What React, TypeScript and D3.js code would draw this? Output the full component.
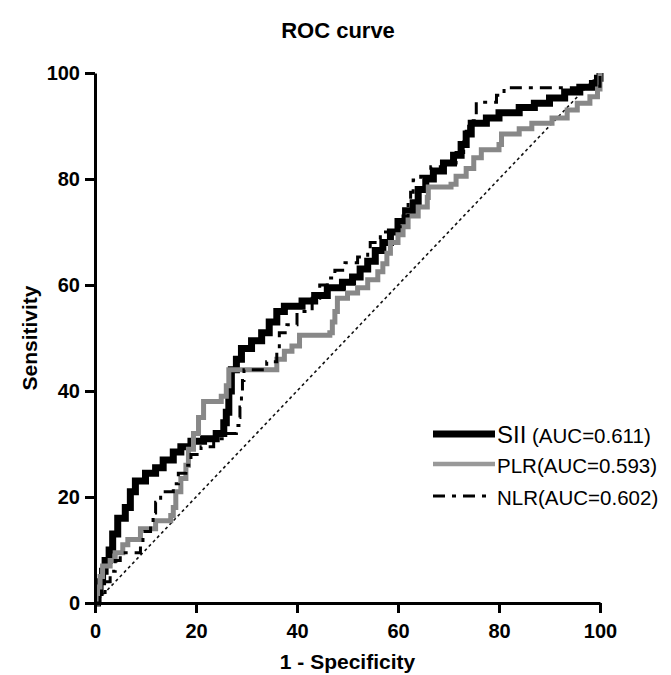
import React, { useEffect, useRef } from "react";
import * as d3 from "d3";

// ROC points: [1 - specificity, sensitivity] in %
const siiPoints: [number, number][] = [
  [0, 0], [0.5, 2], [1, 4], [1.5, 6], [2, 8], [2.8, 10], [3.5, 13], [4.5, 16],
  [6, 18], [7, 21], [8, 23], [10, 24.5], [12, 25.5], [13.5, 27], [15.5, 28.5],
  [17, 29.5], [19, 30.5], [21.5, 31], [24, 32], [25.5, 34], [26, 36], [26.5, 40],
  [27, 44], [28, 46], [29, 48], [31, 49.5], [33, 51], [34.5, 53], [36, 55],
  [37.5, 56], [41, 57], [43.5, 58], [46, 59.5], [49, 60.5], [51, 61.5], [52.5, 63],
  [54, 64.5], [55.5, 66.5], [57, 68], [58.5, 70], [60, 72], [61.5, 74], [63, 75.5],
  [64, 78], [65.5, 80], [67, 81.5], [69, 83], [71, 84.5], [72.5, 86.5], [73.5, 88.5],
  [74.5, 90.5], [77.5, 91.5], [80, 92.5], [84, 93.5], [87, 94.3], [90, 95.3],
  [93, 96.4], [96, 97.3], [98.5, 98], [99.5, 99], [100, 100],
];

const plrPoints: [number, number][] = [
  [0, 0], [0.5, 3], [1, 5], [1.5, 7], [3, 8], [4, 9.5], [5.5, 11], [6.5, 12],
  [9, 14], [12, 15.5], [15, 16.5], [15.5, 18], [16, 21], [17, 23.5], [18, 26],
  [18.5, 29], [19.5, 32], [20.5, 35], [21.5, 38], [25, 39], [26, 41], [26.5, 44],
  [35, 44], [36, 46], [37.5, 47.5], [39, 48.5], [40.5, 50.5], [46.5, 51], [47, 53],
  [47.5, 55], [48, 57.5], [50, 58.5], [52, 59.5], [54, 61], [56, 62.5], [57, 64],
  [57.8, 66], [58.5, 68], [60, 69.5], [61, 71], [62, 73], [64, 74.7], [65.8, 76.5],
  [66, 78.5], [70.5, 79], [71.5, 80.5], [73.5, 82], [75, 84], [76.5, 85.5],
  [80, 86.5], [80.5, 88.5], [84, 89.5], [86.5, 90.5], [90.5, 91.5], [93.5, 93],
  [95.5, 94.3], [98, 95.5], [99.5, 97], [100, 100],
];

const nlrPoints: [number, number][] = [
  [0, 0], [1, 2], [2, 4], [3, 6], [4, 8], [5, 9.5], [9, 11], [9.5, 13.5], [11, 15],
  [11.5, 17], [12, 19], [13, 21], [15.5, 22.5], [16.5, 24.5], [18, 26], [19, 28],
  [21, 29.5], [23.5, 31], [26, 32], [28, 33.5], [28.5, 35], [28.7, 37], [29, 39],
  [29.2, 42], [29.5, 44], [34, 45.5], [36, 47.5], [36.5, 51], [38, 52.5], [40, 55],
  [43, 57.5], [44.5, 60], [46, 61.3], [47.5, 62.8], [49.5, 64.2], [52, 65.3],
  [54, 66.6], [54.5, 68], [56.5, 70], [59, 71], [61, 73], [62, 75.5], [62.5, 77.5],
  [63, 79.8], [64.5, 80.5], [66.5, 82.3], [69, 83], [71.5, 85], [73, 87], [73.5, 89],
  [74, 91], [75.5, 94.5], [79.5, 95.8], [81, 97.2], [99.5, 97.5], [100, 100],
];

const xTicks = [0, 20, 40, 60, 80, 100];
const yTicks = [0, 20, 40, 60, 80, 100];

const FONT = "'Liberation Sans', Arial, sans-serif";

const App = () => {
  const svgRef = useRef<SVGSVGElement>(null);

  useEffect(() => {
    const root = d3.select(svgRef.current);
    root.selectAll("*").remove();

    const margin = { top: 73, left: 95 };
    const width = 505;
    const height = 530;

    const svg = root
      .append("g")
      .attr("transform", `translate(${margin.left},${margin.top})`);

    const x = d3.scaleLinear().domain([0, 100]).range([0, width]);
    const y = d3.scaleLinear().domain([0, 100]).range([height, 0]);

    // chance diagonal
    svg
      .append("line")
      .attr("x1", x(0))
      .attr("y1", y(0))
      .attr("x2", x(100))
      .attr("y2", y(100))
      .attr("stroke", "#111")
      .attr("stroke-width", 1.6)
      .attr("stroke-dasharray", "3,3");

    const line = d3
      .line<[number, number]>()
      .x((d) => x(d[0]))
      .y((d) => y(d[1]))
      .curve(d3.curveStepAfter);

    svg
      .append("path")
      .datum(siiPoints)
      .attr("d", line)
      .attr("fill", "none")
      .attr("stroke", "#000")
      .attr("stroke-width", 7)
      .attr("stroke-linejoin", "miter");

    svg
      .append("path")
      .datum(plrPoints)
      .attr("d", line)
      .attr("fill", "none")
      .attr("stroke", "#888")
      .attr("stroke-width", 5)
      .attr("stroke-linejoin", "miter");

    svg
      .append("path")
      .datum(nlrPoints)
      .attr("d", line)
      .attr("fill", "none")
      .attr("stroke", "#000")
      .attr("stroke-width", 3)
      .attr("stroke-dasharray", "12,7,4,7");

    // axes
    const xAxis = svg
      .append("g")
      .attr("transform", `translate(0,${height})`)
      .call(d3.axisBottom(x).tickValues(xTicks).tickSize(10).tickSizeOuter(0).tickPadding(11));

    const yAxis = svg
      .append("g")
      .call(d3.axisLeft(y).tickValues(yTicks).tickSize(10).tickSizeOuter(0).tickPadding(5));

    [xAxis, yAxis].forEach((g) => {
      g.select(".domain").attr("stroke", "#000").attr("stroke-width", 3);
      g.selectAll(".tick line").attr("stroke", "#000").attr("stroke-width", 3);
      g.selectAll(".tick text")
        .attr("fill", "#000")
        .style("font-family", FONT)
        .style("font-weight", "bold")
        .style("font-size", "20px");
    });

    // titles
    root
      .append("text")
      .attr("x", 338)
      .attr("y", 38)
      .attr("text-anchor", "middle")
      .style("font-family", FONT)
      .style("font-weight", "bold")
      .style("font-size", "22px")
      .text("ROC curve");

    root
      .append("text")
      .attr("x", margin.left + width / 2)
      .attr("y", 669)
      .attr("text-anchor", "middle")
      .style("font-family", FONT)
      .style("font-weight", "bold")
      .style("font-size", "21px")
      .text("1 - Specificity");

    root
      .append("text")
      .attr("transform", `translate(37,${margin.top + height / 2}) rotate(-90)`)
      .attr("text-anchor", "middle")
      .style("font-family", FONT)
      .style("font-weight", "bold")
      .style("font-size", "21px")
      .text("Sensitivity");

    // legend
    const legend = root.append("g").attr("transform", "translate(433,434)");

    legend
      .append("line")
      .attr("x1", 0)
      .attr("x2", 62)
      .attr("y1", 0)
      .attr("y2", 0)
      .attr("stroke", "#000")
      .attr("stroke-width", 7);

    const t1 = legend
      .append("text")
      .attr("x", 64)
      .attr("y", 9)
      .style("font-family", FONT)
      .style("font-size", "20.5px");
    t1.append("tspan").style("font-size", "24px").text("SII");
    t1.append("tspan").text(" (AUC=0.611)");

    legend
      .append("line")
      .attr("x1", 0)
      .attr("x2", 62)
      .attr("y1", 30)
      .attr("y2", 30)
      .attr("stroke", "#999")
      .attr("stroke-width", 4.5);

    legend
      .append("text")
      .attr("x", 64)
      .attr("y", 39)
      .style("font-family", FONT)
      .style("font-size", "20.5px")
      .text("PLR(AUC=0.593)");

    legend
      .append("line")
      .attr("x1", 0)
      .attr("x2", 60)
      .attr("y1", 62)
      .attr("y2", 62)
      .attr("stroke", "#000")
      .attr("stroke-width", 3)
      .attr("stroke-dasharray", "12,7,4,7");

    legend
      .append("text")
      .attr("x", 64)
      .attr("y", 71)
      .style("font-family", FONT)
      .style("font-size", "20.5px")
      .text("NLR(AUC=0.602)");
  }, []);

  return (
    <svg
      ref={svgRef}
      width={671}
      height={675}
      style={{ position: "absolute", left: 0, top: 0, background: "#fff" }}
    ></svg>
  );
};

export default App;
